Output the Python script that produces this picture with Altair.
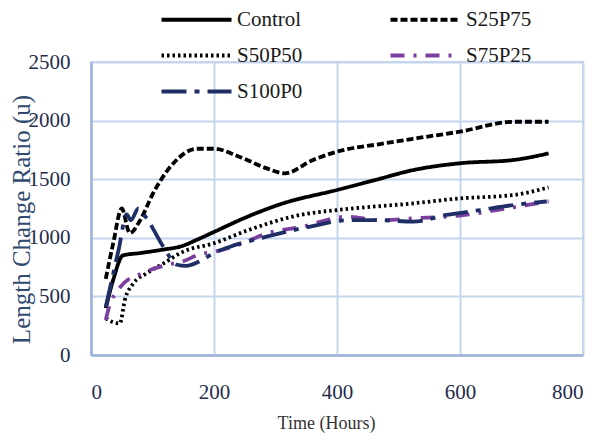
import altair as alt
import pandas as pd

series_names = ["Control", "S25P75", "S50P50", "S75P25", "S100P0"]

control_x = [24, 36, 52, 80, 118, 145, 175, 200, 250, 310, 400, 460, 524, 600, 687, 744]
control_y = [400, 640, 850, 870, 900, 925, 990, 1050, 1170, 1290, 1408, 1490, 1578, 1636, 1664, 1720]

s25p75_x = [24, 36, 50, 63, 80, 101, 134, 172, 199, 242, 286, 315, 361, 400, 470, 530, 600, 687, 744]
s25p75_y = [650, 950, 1250, 1040, 1150, 1380, 1636, 1760, 1760, 1690, 1592, 1550, 1664, 1735, 1800, 1850, 1906, 1990, 1990]

s50p50_x = [24, 34, 47, 55, 69, 90, 118, 150, 199, 258, 340, 400, 524, 600, 687, 744]
s50p50_y = [313, 284, 270, 469, 611, 696, 782, 882, 952, 1070, 1195, 1237, 1294, 1336, 1365, 1430]

s75p25_x = [24, 30, 44, 63, 77, 96, 123, 150, 177, 200, 250, 286, 340, 416, 470, 524, 600, 687, 744]
s75p25_y = [300, 420, 555, 654, 683, 725, 768, 800, 860, 880, 960, 1038, 1090, 1180, 1150, 1166, 1190, 1260, 1310]

s100p0_x = [24, 45, 58, 65, 77, 90, 118, 140, 155, 177, 200, 226, 264, 307, 360, 416, 470, 524, 578, 633, 687, 741]
s100p0_y = [410, 900, 1200, 1150, 1250, 1170, 920, 770, 760, 800, 870, 924, 981, 1038, 1100, 1150, 1150, 1138, 1195, 1237, 1280, 1310]

x_ticks = [0, 200, 400, 600, 800]
y_ticks = [0, 500, 1000, 1500, 2000, 2500]

colors = ["#000000", "#000000", "#000000", "#7B3FA0", "#1F2F66"]
dashes = [[1, 0], [7, 3], [2.5, 3], [14, 9, 3, 9], [25, 8, 5, 8]]

rows = []
for name, xs, ys in [
    ("Control", control_x, control_y),
    ("S25P75", s25p75_x, s25p75_y),
    ("S50P50", s50p50_x, s50p50_y),
    ("S75P25", s75p25_x, s75p25_y),
    ("S100P0", s100p0_x, s100p0_y),
]:
    for i, (a, b) in enumerate(zip(xs, ys)):
        rows.append({"series": name, "hours": a, "ratio": b, "order": i})
df = pd.DataFrame(rows)

FONT = "'Liberation Serif', 'Times New Roman', 'DejaVu Serif', serif"

# long horizontal stroke as legend symbol (scaled by sqrt(symbolSize)/2)
LEGEND_LINE = "M-7,0H7"

chart = alt.Chart(df).mark_line(strokeWidth=3.8, interpolate="monotone").encode(
    x=alt.X("hours:Q",
            scale=alt.Scale(domain=[0, 800], nice=False),
            axis=alt.Axis(values=x_ticks, format="d", title="Time (Hours)", labelPadding=26,
                          labelFont=FONT, labelFontSize=21, labelColor="#1F2D4D",
                          titleX=235, titleY=68, titleBaseline="middle",
                          titleColor="#333333", titleFontSize=18)),
    y=alt.Y("ratio:Q",
            scale=alt.Scale(domain=[0, 2500], nice=False),
            axis=alt.Axis(values=y_ticks, format="d", title="Length Change Ratio (u)", labelPadding=21,
                          labelFont=FONT, labelFontSize=21, labelColor="#1F2D4D",
                          titleX=-70, titleY=157, titleAngle=270, titleBaseline="middle",
                          titleColor="#2F4A6E", titleFontSize=25)),
    color=alt.Color("series:N",
                    scale=alt.Scale(domain=series_names, range=colors),
                    sort=series_names,
                    legend=alt.Legend(title=None, orient="none", legendX=95, legendY=-53,
                                      direction="horizontal",
                                      columns=2, columnPadding=79, rowPadding=14,
                                      symbolType=LEGEND_LINE, symbolSize=100,
                                      symbolStrokeWidth=4, labelFont=FONT,
                                      labelFontSize=21, labelColor="#1a1a1a",
                                      labelOffset=30, padding=0)),
    strokeDash=alt.StrokeDash("series:N",
                              scale=alt.Scale(domain=series_names, range=dashes),
                              sort=series_names, legend=None),
    detail="series:N",
    order="order:Q",
).properties(
    width=492, height=293,
    padding={"left": 83, "top": 54, "right": 9, "bottom": 78},
    autosize=alt.AutoSizeParams(type="none"),
).configure(
    font=FONT,
).configure_axis(
    labelFont=FONT, titleFont=FONT, labelFontSize=21, labelColor="#1F2D4D",
    titleFontWeight="normal", grid=True, gridColor="#C6D5EE", gridWidth=2,
    domainColor="#9CB3DA", domainWidth=2.5, ticks=False,
).configure_legend(
    labelFont=FONT,
).configure_view(
    stroke="#C6D5EE", strokeWidth=2,
)

chart.save("out.html", embed_options={"renderer": "svg", "actions": False})
